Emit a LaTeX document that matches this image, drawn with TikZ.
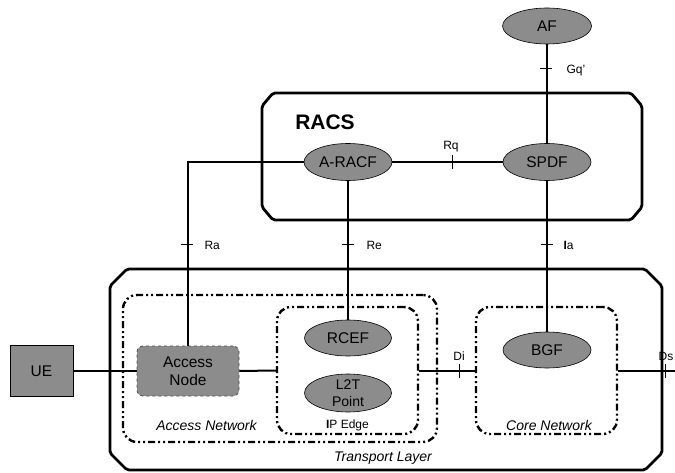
\documentclass[tikz,border=0pt]{standalone}
\usepackage{fontspec}
\setmainfont{Liberation Sans}
\usetikzlibrary{shapes.geometric}
\definecolor{nodegray}{RGB}{140,140,140}
\begin{document}
\begin{tikzpicture}[x=1pt,y=-1pt,
  ell/.style={ellipse,draw=black,line width=0.6pt,fill=nodegray,minimum width=88pt,minimum height=37pt,inner sep=0pt,font=\fontsize{15.5}{16}\selectfont,align=center},
  conn/.style={line width=2pt},
  frame/.style={line width=2.8pt,rounded corners=2pt},
  ddot/.style={draw,line width=2.4pt,rounded corners=14pt,dash pattern=on 7pt off 3pt on 2pt off 3pt on 2pt off 3pt},
  tick/.style={line width=0.8pt},
  lbl/.style={font=\fontsize{12}{14}\selectfont},
  it/.style={font=\itshape\fontsize{14}{16}\selectfont}]
\useasboundingbox (0,0) rectangle (675,473);
% frames
\draw[frame] (273,93) -- (631,93) -- (642,106) -- (642,207) -- (631,220) -- (273,220) -- (262,207) -- (262,106) -- cycle;
\node[font=\bfseries\fontsize{21}{23}\selectfont] (racs) at (325,122) {RACS};
\draw[frame] (127,269) -- (645,269) -- (662,286) -- (662,453) -- (645,470) -- (127,470) -- (110,453) -- (110,286) -- cycle;
\node[it] (tl) at (383,458) {Transport Layer};
\node[ddot,minimum width=314pt,minimum height=147pt,inner sep=0pt] (accnet) at (280,368.5) {};
\node[ddot,minimum width=141pt,minimum height=127pt,inner sep=0pt] (ipedge) at (347.5,370.5) {};
\node[ddot,minimum width=141pt,minimum height=127pt,inner sep=0pt] (core) at (546.5,370.5) {};
\node[it] (anl) at (206.5,425.5) {Access Network};
\node[it] (cnl) at (549,425.5) {Core Network};
\node[font=\fontsize{12}{14}\selectfont] (ipl) at (347.5,425) {\textbf{I}P Edge};
% nodes
\node[ell,minimum width=89pt,minimum height=36pt] (af) at (547,26) {AF};
\node[ell] (aracf) at (348,162) {A-RACF};
\node[ell] (spdf) at (547,162) {SPDF};
\node[ell,minimum width=87pt,minimum height=36pt] (rcef) at (348,338) {RCEF};
\node[ell,minimum width=87pt,minimum height=38pt,font=\fontsize{14}{16.5}\selectfont] (l2t) at (348,393) {L2T\\Point};
\node[ell,minimum height=36pt] (bgf) at (547,350) {BGF};
\node[draw=black,line width=0.6pt,fill=nodegray,minimum width=63pt,minimum height=51pt,inner sep=0pt,font=\fontsize{15.5}{16}\selectfont] (ue) at (41.5,371) {UE};
\node[draw=black!70,dashed,line width=0.8pt,rounded corners=6pt,fill=nodegray,minimum width=102pt,minimum height=50pt,inner sep=0pt,align=center,font=\fontsize{15.5}{18}\selectfont] (an) at (188,371) {Access\\Node};
% connectors
\draw[conn] (af.south) -- (spdf.north);
\draw[conn] (aracf.east) -- (spdf.west);
\draw[conn] (aracf.west) -| (an.north);
\draw[conn] (aracf.south) -- (rcef.north);
\draw[conn] (spdf.south) -- (bgf.north);
\draw[conn] (ue.east) -- (an.west);
\draw[conn] (an.east) -- (ipedge.west);
\draw[conn] (ipedge.east) -- (core.west);
\coordinate (dsend) at (675,370.5);
\draw[conn] (core.east) -- (dsend);
% ticks and labels
\draw[tick] (540,68) -- (552,68); \node[lbl,anchor=west] (gq) at (563,71) {Gq'};
\draw[tick] (452,155) -- (452,169); \node[lbl] (rq) at (451,147) {Rq};
\draw[tick] (181,244) -- (193,244); \node[lbl,anchor=west] (ra) at (201,245) {Ra};
\draw[tick] (342,244) -- (354,244); \node[lbl,anchor=west] (re) at (363,245) {Re};
\draw[tick] (541,244) -- (553,244); \node[lbl,anchor=west] (ia) at (560,245) {\textbf{I}a};
\draw[tick] (459,364) -- (459,378); \node[lbl] (di) at (459,356) {Di};
\draw[tick] (665,364) -- (665,378); \node[lbl] (ds) at (666,356) {Ds};
\end{tikzpicture}
\end{document}
